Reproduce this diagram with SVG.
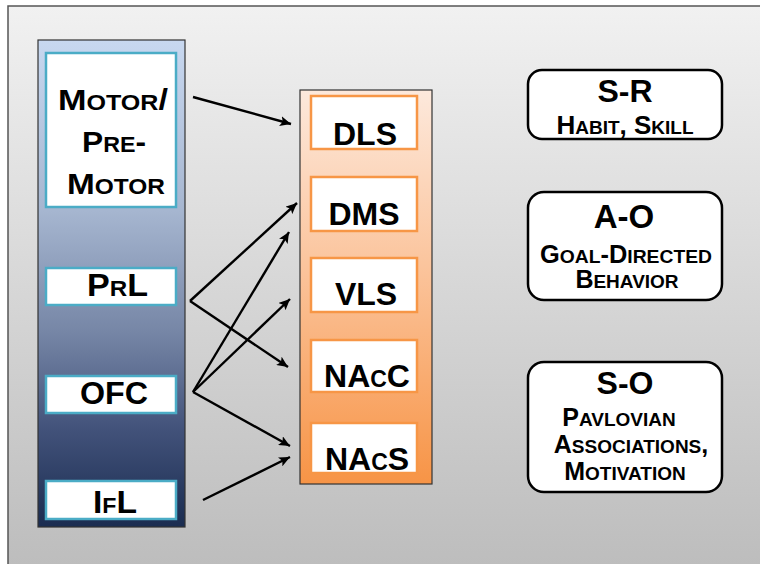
<svg xmlns="http://www.w3.org/2000/svg" width="760" height="564" viewBox="0 0 760 564">
<defs>
<linearGradient id="bg" x1="0" y1="0" x2="0" y2="1">
<stop offset="0" stop-color="#f1f1f1"/>
<stop offset="1" stop-color="#bcbcbc"/>
</linearGradient>
<linearGradient id="blue" x1="0" y1="0" x2="0" y2="1">
<stop offset="0" stop-color="#c8d8f0"/>
<stop offset="0.35" stop-color="#a6b6d0"/>
<stop offset="0.6" stop-color="#7686a6"/>
<stop offset="0.8" stop-color="#42527a"/>
<stop offset="1" stop-color="#1a2c50"/>
</linearGradient>
<linearGradient id="orange" x1="0" y1="0" x2="0" y2="1">
<stop offset="0" stop-color="#fde9dc"/>
<stop offset="0.45" stop-color="#fbc49c"/>
<stop offset="1" stop-color="#f79446"/>
</linearGradient>
<marker id="ah" markerUnits="userSpaceOnUse" markerWidth="12" markerHeight="10" refX="11" refY="5" orient="auto">
<path d="M0,0 L11,5 L0,10 L2.5,5 z" fill="#000"/>
</marker>
<style>
text{font-family:"Liberation Sans",Arial,sans-serif;font-weight:bold;fill:#000}
.lbox{fill:#fff;stroke:#4bacc6;stroke-width:2.5}
.mbox{fill:#fff;stroke:#f79646;stroke-width:2.5}
.rbox{fill:#fff;stroke:#000;stroke-width:2.5}
.col{stroke:#333;stroke-width:1.2}
.mid{font-size:32px}
.cn line{stroke:#000;stroke-width:2.4;marker-end:url(#ah)}
</style>
</defs>
<rect x="0" y="0" width="760" height="564" fill="#fff"/>
<rect x="8" y="6" width="760" height="570" fill="url(#bg)" stroke="#555" stroke-width="1.5"/>

<g id="cortex">
<rect class="col" x="38" y="40" width="147" height="487" fill="url(#blue)"/>
</g>
<g id="motor">
<rect class="lbox" x="46" y="53" width="130" height="154"/>
<text x="58" y="110" textLength="110" lengthAdjust="spacingAndGlyphs" font-size="30">M<tspan font-size="22">OTOR</tspan>/</text>
<text x="82" y="152" textLength="64" lengthAdjust="spacingAndGlyphs" font-size="30">P<tspan font-size="22">RE</tspan>-</text>
<text x="67" y="194" textLength="98" lengthAdjust="spacingAndGlyphs" font-size="30">M<tspan font-size="22">OTOR</tspan></text>
</g>
<g id="prl">
<rect class="lbox" x="46" y="268" width="130" height="37"/>
<text x="87" y="296" textLength="61" lengthAdjust="spacingAndGlyphs" font-size="31">P<tspan font-size="22">R</tspan>L</text>
</g>
<g id="ofc">
<rect class="lbox" x="46" y="376" width="130" height="37"/>
<text x="80" y="404" textLength="68" lengthAdjust="spacingAndGlyphs" font-size="32">OFC</text>
</g>
<g id="ifl">
<rect class="lbox" x="46" y="481" width="130" height="38"/>
<text x="93" y="513" textLength="44" lengthAdjust="spacingAndGlyphs" font-size="32">I<tspan font-size="22">F</tspan>L</text>
</g>

<g id="striatum">
<rect class="col" x="300" y="90" width="132" height="394" fill="url(#orange)"/>
</g>
<g id="dls">
<rect class="mbox" x="311" y="96" width="106" height="53"/>
<text class="mid" x="365" y="145" text-anchor="middle">DLS</text>
</g>
<g id="dms">
<rect class="mbox" x="311" y="177" width="106" height="54"/>
<text class="mid" x="364" y="225" text-anchor="middle">DMS</text>
</g>
<g id="vls">
<rect class="mbox" x="311" y="258" width="106" height="54"/>
<text class="mid" x="366" y="305" text-anchor="middle">VLS</text>
</g>
<g id="nacc">
<rect class="mbox" x="311" y="340" width="106" height="52"/>
<text class="mid" x="367" y="387" text-anchor="middle">NA<tspan font-size="23">C</tspan>C</text>
</g>
<g id="nacs">
<rect class="mbox" x="311" y="423" width="106" height="50"/>
<text class="mid" x="367" y="470" text-anchor="middle">NA<tspan font-size="23">C</tspan>S</text>
</g>

<g id="sr">
<rect class="rbox" x="528" y="70" width="194" height="69" rx="14"/>
<text x="625" y="102" text-anchor="middle" font-size="32">S-R</text>
<text x="625" y="134" text-anchor="middle" font-size="26">H<tspan font-size="19">ABIT</tspan>, S<tspan font-size="19">KILL</tspan></text>
</g>
<g id="ao">
<rect class="rbox" x="528" y="192" width="194" height="108" rx="16"/>
<text x="624" y="228" text-anchor="middle" font-size="33">A-O</text>
<text x="626" y="263" text-anchor="middle" font-size="25" textLength="172" lengthAdjust="spacingAndGlyphs">G<tspan font-size="19">OAL</tspan>-D<tspan font-size="19">IRECTED</tspan></text>
<text x="627" y="288" text-anchor="middle" font-size="25">B<tspan font-size="19">EHAVIOR</tspan></text>
</g>
<g id="so">
<rect class="rbox" x="528" y="362" width="194" height="130" rx="16"/>
<text x="625" y="394" text-anchor="middle" font-size="32">S-O</text>
<text x="619" y="426" text-anchor="middle" font-size="25">P<tspan font-size="19">AVLOVIAN</tspan></text>
<text x="631" y="453" text-anchor="middle" font-size="25">A<tspan font-size="19">SSOCIATIONS</tspan>,</text>
<text x="625" y="480" text-anchor="middle" font-size="25">M<tspan font-size="19">OTIVATION</tspan></text>
</g>

<g id="connectors" class="cn">
<line x1="193" y1="97" x2="291" y2="124"/>
<line x1="190" y1="301" x2="297" y2="203"/>
<line x1="190" y1="301" x2="288" y2="367"/>
<line x1="193" y1="392" x2="289" y2="232"/>
<line x1="193" y1="392" x2="290" y2="299"/>
<line x1="193" y1="392" x2="290" y2="446"/>
<line x1="203" y1="500" x2="290" y2="457"/>
</g>
</svg>
